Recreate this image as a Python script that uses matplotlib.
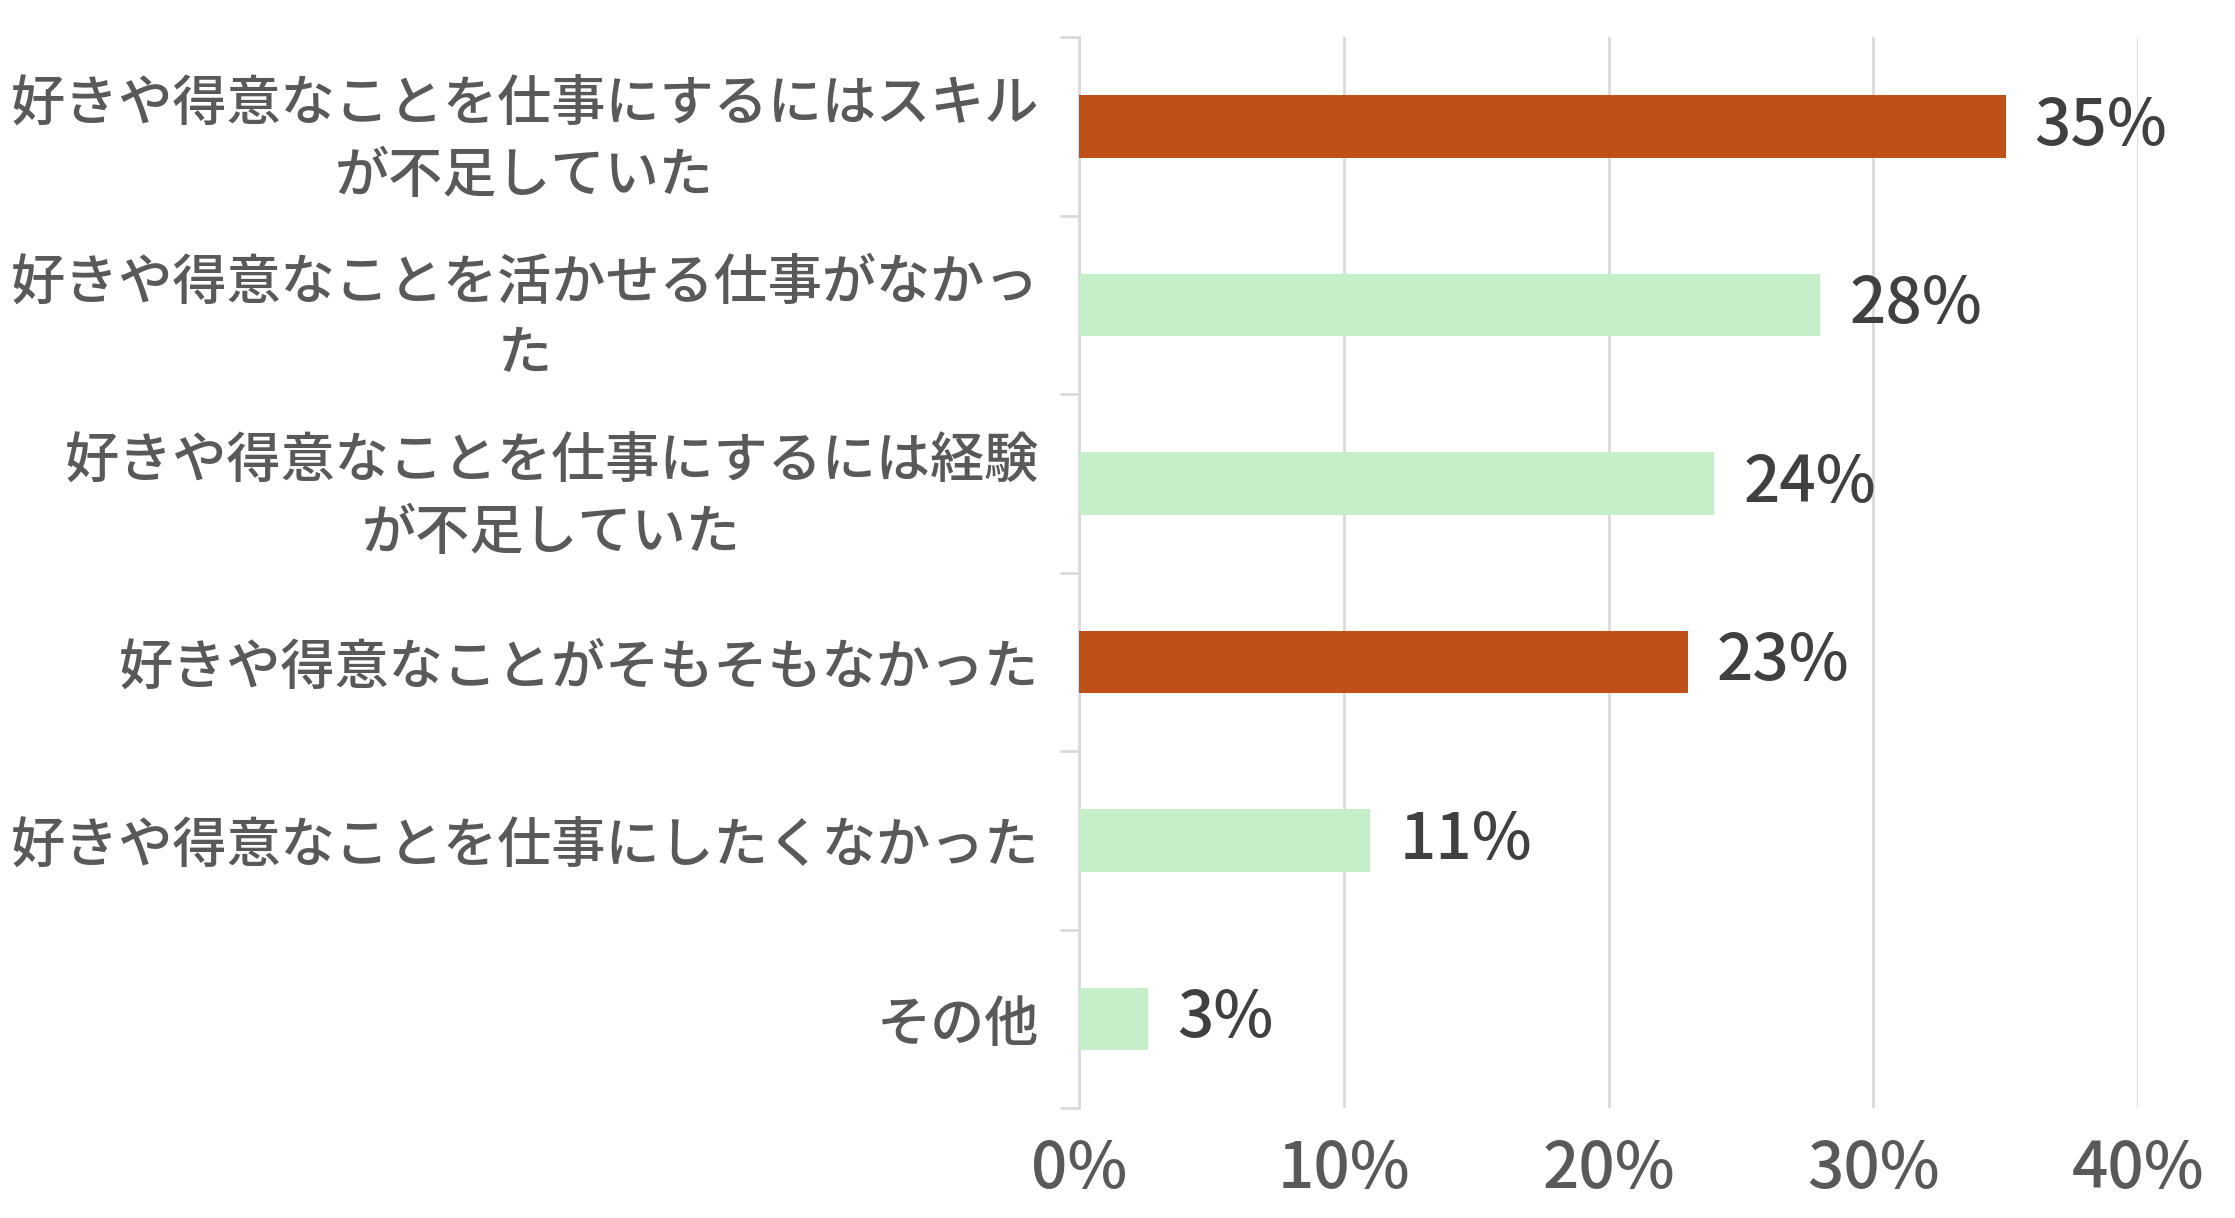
import numpy as np
import matplotlib.pyplot as plt

plt.rcParams['font.family'] = ['Noto Sans CJK JP', 'DejaVu Sans']

# 項目（上から順）
categories = [
    '好きや得意なことを仕事にするにはスキル\nが不足していた',
    '好きや得意なことを活かせる仕事がなかっ\nた',
    '好きや得意なことを仕事にするには経験\nが不足していた',
    '好きや得意なことがそもそもなかった',
    '好きや得意なことを仕事にしたくなかった',
    'その他',
]
values = [35.0, 28.0, 24.0, 23.0, 11.0, 2.6]
value_labels = ['35%', '28%', '24%', '23%', '11%', '3%']
highlight = [True, False, False, True, False, False]
xticks = [0, 10, 20, 30, 40]
xtick_labels = ['0%', '10%', '20%', '30%', '40%']

orange = '#C0501A'
green = '#C5EFC9'
grid_c = '#D9D9D9'

fig = plt.figure(figsize=(22.35, 12.18), dpi=100)
ax = fig.add_axes([0.4828, 0.0903, 0.9566 - 0.4828, 0.9696 - 0.0903])

y = np.arange(len(categories))
cols = [orange if h else green for h in highlight]
ax.barh(y, values, height=0.35, color=cols, zorder=3)

for yi, v, lab in zip(y, values, value_labels):
    ax.text(v + 1.1, yi, lab, va='center', ha='left', fontsize=46,
            color='#404040', weight='medium')

ax.set_xlim(0, 40)
ax.set_ylim(len(categories) - 0.5, -0.5)

ax.set_xticks(xticks)
ax.set_xticklabels(xtick_labels, fontsize=46, color='#595959', weight='medium')
ax.tick_params(axis='x', length=0, pad=21)
ax.xaxis.grid(True, color=grid_c, linewidth=2, zorder=0)

ax.set_yticks(np.arange(len(categories) + 1) - 0.5, minor=False)
ax.set_yticklabels([])
ax.set_yticks(y, minor=True)
ax.set_yticklabels(categories, minor=True, fontsize=39, color='#595959',
                   multialignment='center', linespacing=1.35, weight='medium')
ax.tick_params(axis='y', which='minor', length=0, pad=29)
ax.tick_params(axis='y', which='major', length=14, width=2, color=grid_c)

for s in ['top', 'right', 'bottom']:
    ax.spines[s].set_visible(False)
ax.spines['left'].set_color(grid_c)
ax.spines['left'].set_linewidth(2)

fig.savefig('out.png', dpi=100)
